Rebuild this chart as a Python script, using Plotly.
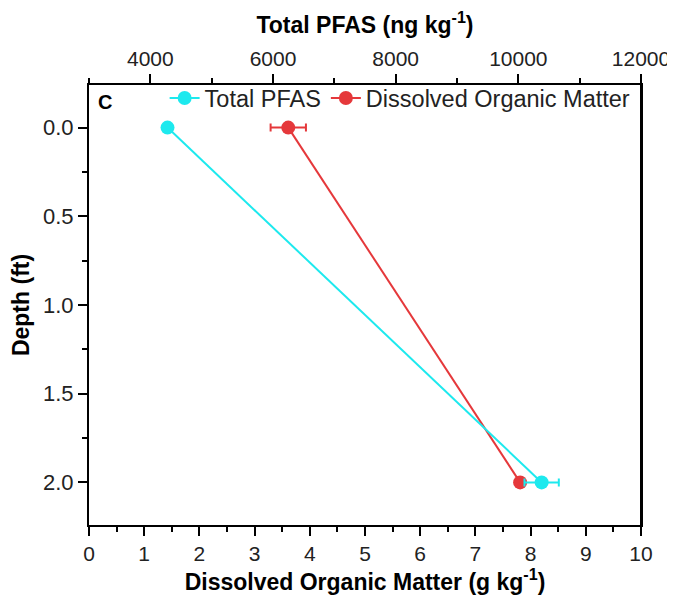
import plotly.graph_objects as go

# depth profile values
depth = [0.0, 2.0]
pfas = [4280, 10380]          # ng/kg, top axis
pfas_err = [60, 280]
dom = [3.61, 7.81]            # g/kg, bottom axis
dom_err = [0.32, 0.05]

cyan = "#1DE9EE"
red = "#E5383B"
font = "Liberation Sans, Arial, sans-serif"

fig = go.Figure()
fig.add_trace(go.Scatter(
    x=pfas, y=depth, xaxis="x2", name="Total PFAS", mode="lines+markers",
    line=dict(color=cyan, width=2), marker=dict(color=cyan, size=14),
    error_x=dict(type="data", array=pfas_err, color=cyan, thickness=2, width=4),
))
fig.add_trace(go.Scatter(
    x=dom, y=depth, name="Dissolved Organic Matter", mode="lines+markers",
    line=dict(color=red, width=2), marker=dict(color=red, size=14),
    error_x=dict(type="data", array=dom_err, color=red, thickness=2, width=4),
))

axis_common = dict(showline=True, linecolor="black", linewidth=2, showgrid=False,
                   zeroline=False, ticks="outside", ticklen=9, tickwidth=1.5,
                   tickcolor="black", automargin=False,
                   tickfont=dict(size=21, color="#222"))

fig.update_layout(
    width=675, height=595,
    margin=dict(l=81, r=42, t=77, b=78),
    paper_bgcolor="white", plot_bgcolor="white",
    font=dict(family=font, color="black"),
    xaxis=dict(range=[0, 10], dtick=1, mirror=False,
               minor=dict(dtick=0.5, ticks="outside", ticklen=5, tickcolor="black"),
               title=dict(text="<b>Dissolved Organic Matter (g kg<sup>-1</sup>)</b>",
                          font=dict(size=23), standoff=2),
               **axis_common),
    xaxis2=dict(range=[3000, 12000], dtick=2000, tick0=0, tickformat="d",
                overlaying="x", side="top",
                minor=dict(dtick=1000, ticks="outside", ticklen=5, tickcolor="black"),
                title=dict(text="<b>Total PFAS (ng kg<sup>-1</sup>)</b>",
                           font=dict(size=23), standoff=14),
                **axis_common),
    yaxis=dict(range=[2.24, -0.24], dtick=0.5, tick0=0, tickformat=".1f", mirror=True,
               minor=dict(dtick=0.25, ticks="outside", ticklen=5, tickcolor="black"),
               title=dict(text="<b>Depth (ft)</b>", font=dict(size=23), standoff=7),
               **axis_common),
    legend=dict(orientation="h", x=0.137, y=1.02, xanchor="left", yanchor="top",
                bgcolor="rgba(0,0,0,0)", font=dict(size=23.5, color="#222"),
                itemwidth=30, tracegroupgap=0),
    showlegend=True,
)
fig.update_yaxes(tickfont=dict(size=22))
# mirrored right border without ticks
fig.add_shape(type="line", xref="paper", yref="paper", x0=1, x1=1, y0=0, y1=1,
              line=dict(color="black", width=2))

fig.add_annotation(text="<b>C</b>", xref="paper", yref="paper", x=0.012, y=0.99,
                   xanchor="left", yanchor="top", showarrow=False,
                   font=dict(size=20, color="black"))

fig.write_html("out.html")
